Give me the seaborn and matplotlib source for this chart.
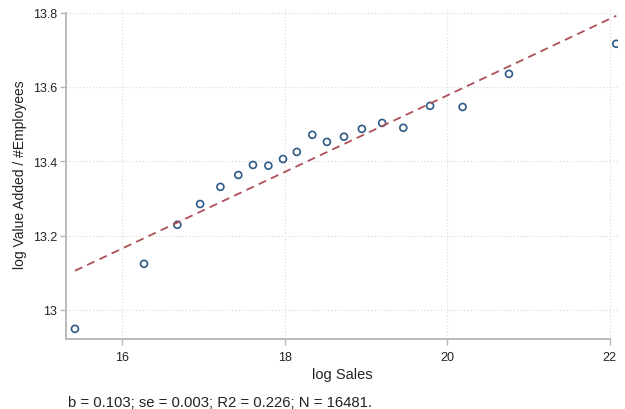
import numpy as np
import pandas as pd
import matplotlib
matplotlib.use('Agg')
import matplotlib.pyplot as plt
import seaborn as sns

# binned means (log sales vs log value added per employee)
log_sales = [15.42, 16.27, 16.68, 16.96, 17.21, 17.43, 17.61, 17.80, 17.98, 18.15,
             18.34, 18.52, 18.73, 18.95, 19.20, 19.46, 19.79, 20.19, 20.76, 22.08]
log_va_emp = [12.949, 13.124, 13.229, 13.285, 13.331, 13.363, 13.390, 13.388, 13.406, 13.425,
              13.471, 13.452, 13.466, 13.487, 13.503, 13.490, 13.549, 13.546, 13.635, 13.716]

# fitted line
slope = 0.103
intercept = 11.517
note = 'b = 0.103; se = 0.003; R2 = 0.226; N = 16481.'

sns.set_style('white')
plt.rcParams['font.family'] = ['Liberation Sans', 'DejaVu Sans']

df = pd.DataFrame({'x': log_sales, 'y': log_va_emp})
xs = np.array([min(log_sales), max(log_sales)])
fit = pd.DataFrame({'x': xs, 'y': intercept + slope * xs})

fig = plt.figure(figsize=(6.25, 4.1), dpi=100)
ax = fig.add_axes([0.1056, 0.171, 0.883, 0.805])

ax.grid(True, color='#dddddd', linestyle=':', linewidth=0.9)
ax.set_axisbelow(True)

sns.lineplot(data=fit, x='x', y='y', ax=ax, color='#ad5057', linewidth=1.3,
             dashes=False, linestyle=(0, (4.5, 3)))
sns.scatterplot(data=df, x='x', y='y', ax=ax, marker='o', s=25,
                facecolor='none', edgecolor='#2e5a87', linewidth=1.2)

ax.set_xlim(15.31, 22.1)
ax.set_ylim(12.922, 13.81)
ax.set_xticks([16, 18, 20, 22])
ax.set_yticks([13, 13.2, 13.4, 13.6, 13.8])
ax.set_xticklabels(['16', '18', '20', '22'])
ax.set_yticklabels(['13', '13.2', '13.4', '13.6', '13.8'])

for s in ['top', 'right']:
    ax.spines[s].set_visible(False)
for s in ['left', 'bottom']:
    ax.spines[s].set_color('#b5b5b5')
    ax.spines[s].set_linewidth(1.3)
ax.spines['bottom'].set_bounds(15.31, 22)
ax.spines['left'].set_bounds(12.922, 13.8)

ax.tick_params(axis='both', which='both', direction='out', length=4.5, width=1,
               color='#b5b5b5', labelsize=9, labelcolor='#222222', pad=2,
               bottom=True, left=True)
ax.tick_params(axis='x', pad=4)

ax.set_xlabel('log Sales', fontsize=10.5, color='#222222', labelpad=3)
ax.set_ylabel('log Value Added / #Employees', fontsize=10, color='#222222', labelpad=4)

fig.text(68 / 625, 1 - 403 / 410, note, fontsize=10.7, color='#222222',
         ha='left', va='center')

fig.savefig('out.png', dpi=100)
